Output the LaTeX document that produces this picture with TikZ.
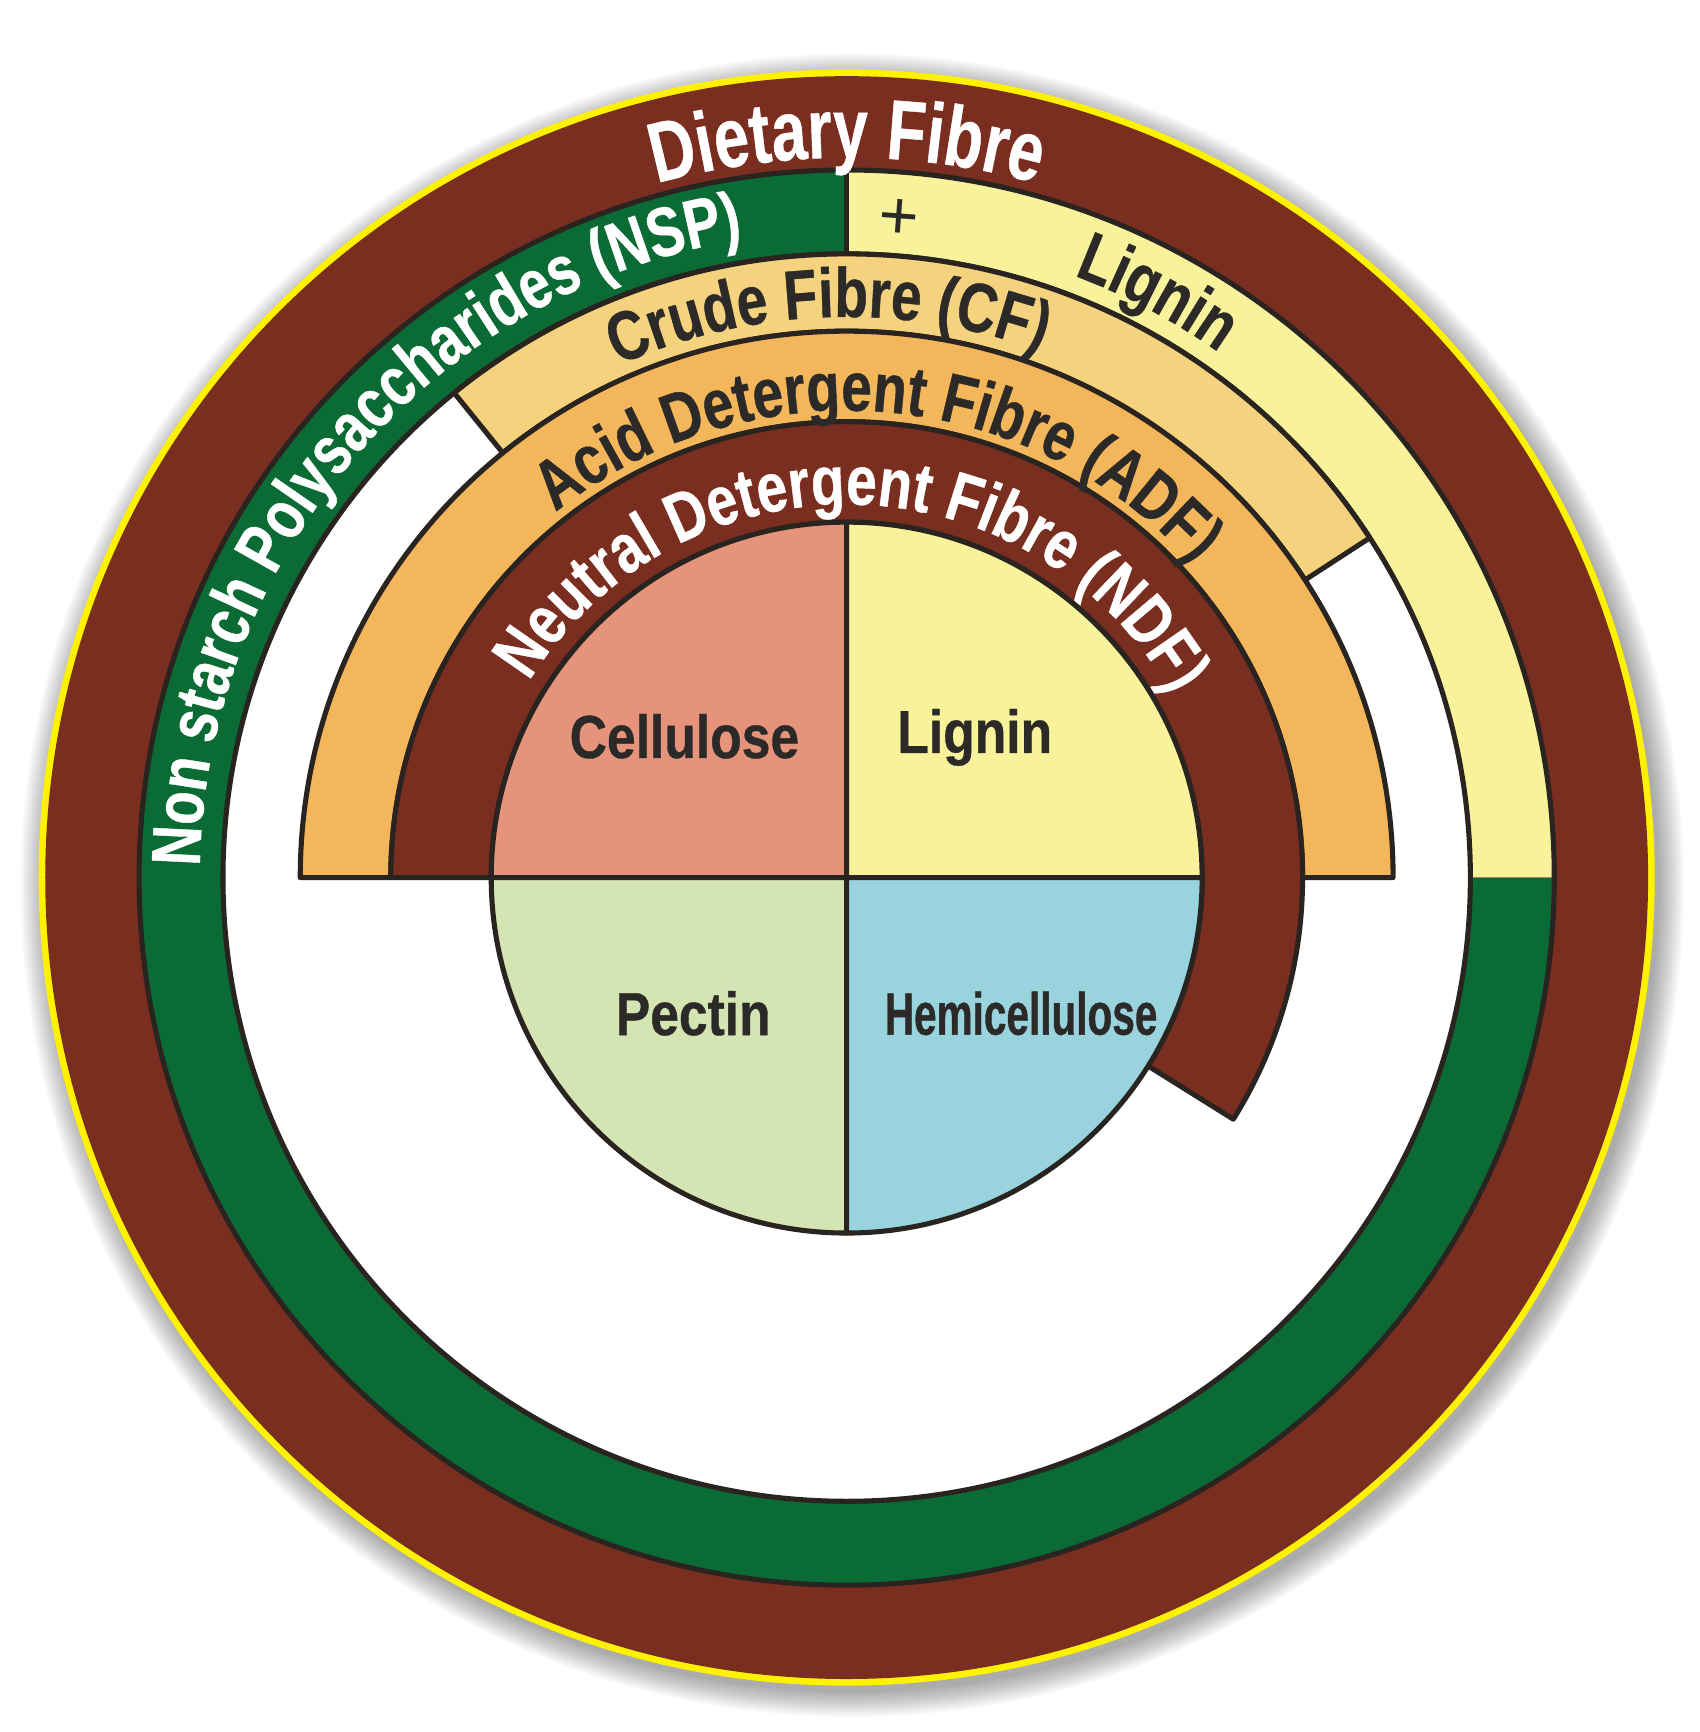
\documentclass[tikz,border=0pt]{standalone}
\usepackage{fontspec}
\setmainfont{Liberation Sans}
\newfontfamily\fDF{Liberation Sans}[FakeStretch=0.74,FakeBold=0.5]
\newfontfamily\fRing{Liberation Sans}[FakeStretch=0.79,FakeBold=0.6]
\newfontfamily\fIn{Liberation Sans}[FakeStretch=0.85,FakeBold=0.6]
\newfontfamily\fHemi{Liberation Sans}[FakeStretch=0.68,FakeBold=0.6]
\usetikzlibrary{decorations.text}
\definecolor{ylw}{HTML}{FFF200}
\definecolor{brn}{HTML}{7A2E1F}
\definecolor{grn}{HTML}{0B6B35}
\definecolor{lyel}{HTML}{F8F29A}
\definecolor{cfc}{HTML}{F5D27E}
\definecolor{adfc}{HTML}{F4B65A}
\definecolor{cellc}{HTML}{E5937A}
\definecolor{pectc}{HTML}{D5E4B3}
\definecolor{hemic}{HTML}{98D3DE}
\definecolor{lnc}{HTML}{2A2420}
\definecolor{txc}{HTML}{2B2A28}
\def\sDF{\fDF\bfseries\fontsize{77}{80}\selectfont}
\def\sRing{\fRing\bfseries\fontsize{63}{66}\selectfont}
\def\sIn{\fIn\bfseries\fontsize{55}{58}\selectfont}
\def\sHemi{\fHemi\bfseries\fontsize{54}{58}\selectfont}
\begin{document}
\begin{tikzpicture}[x=1pt,y=1pt,line join=round,
  ln/.style={draw=lnc,line width=4.6pt},
  inlab/.style={text=txc,font=\sIn,inner sep=0pt},
  curved/.style={decorate,decoration={text along path,text align=center,#1}}]
\useasboundingbox (-767,-774) rectangle (773,795);
\fill[white] (-767,-774) rectangle (773,795);
% soft shadow
\foreach \i in {0,...,14} \fill[black,opacity=0.022] (5,-7) circle ({731+\i*1.6});
% outer rings
\fill[ylw] (0,0) circle (732);
\fill[brn] (0,0) circle (726);
\fill[grn] (0,0) circle (641);
\fill[lyel] (0,0) -- (0:641) arc[start angle=0,end angle=90,radius=641] -- cycle;
\fill[white] (0,0) circle (565);
\draw[ln] (0,0) circle (641);
\draw[ln] (0,0) circle (565);
\draw[ln] (90:565) -- (90:641);
\draw[lnc!50!lyel,line width=1.5pt] (0:567) -- (0:639);
% Crude fibre band
\filldraw[ln,fill=cfc] (33:565) arc[start angle=33,end angle=129,radius=565] -- (129:495) arc[start angle=129,end angle=33,radius=495] -- cycle;
% ADF band
\filldraw[ln,fill=adfc] (0:495) arc[start angle=0,end angle=180,radius=495] -- (180:413) arc[start angle=180,end angle=0,radius=413] -- cycle;
% NDF band
\filldraw[ln,fill=brn] (180:413) arc[start angle=180,end angle=-32,radius=413] -- (-32:322) arc[start angle=-32,end angle=180,radius=322] -- cycle;
% pie
\filldraw[ln,fill=cellc] (0,0) -- (90:322) arc[start angle=90,end angle=180,radius=322] -- cycle;
\filldraw[ln,fill=lyel] (0,0) -- (0:322) arc[start angle=0,end angle=90,radius=322] -- cycle;
\filldraw[ln,fill=pectc] (0,0) -- (180:322) arc[start angle=180,end angle=270,radius=322] -- cycle;
\filldraw[ln,fill=hemic] (0,0) -- (270:322) arc[start angle=270,end angle=360,radius=322] -- cycle;
% curved labels
\path[curved={text color=white,text={|\sDF|Dietary Fibre}}] (150:652) arc[start angle=150,end angle=30,radius=652];
\path[decorate,decoration={text along path,text color=white,text={|\sRing|Non starch Polysaccharides (NSP)}}] (179:586) arc[start angle=179,end angle=70,radius=586];
\path[curved={text color=txc,text={|\sRing|Lignin}}] (82:583) arc[start angle=82,end angle=42,radius=583];
\path[curved={text color=txc,text={|\sRing|Crude Fibre (CF)}}] (131.9:508) arc[start angle=131.9,end angle=51.9,radius=508];
\path[curved={text color=txc,text={|\sRing|Acid Detergent Fibre (ADF)}}] (145.3:423) arc[start angle=145.3,end angle=25.3,radius=423];
\path[curved={text color=white,text={|\sRing|Neutral Detergent Fibre (NDF)}}] (163.8:338) arc[start angle=163.8,end angle=13.8,radius=338];
\node[text=txc,font=\fontsize{62}{64}\selectfont,rotate=-4.3,inner sep=0pt] (plus) at (85.5:598) {+};
% inner labels
\node[inlab] (cell) at (-147,128) {Cellulose};
\node[inlab] (lign) at (116,127) {Lignin};
\node[inlab] (pect) at (-139,-123) {Pectin};
\node[inlab,font=\sHemi] (hemi) at (158,-123) {Hemicellulose};
\end{tikzpicture}
\end{document}
